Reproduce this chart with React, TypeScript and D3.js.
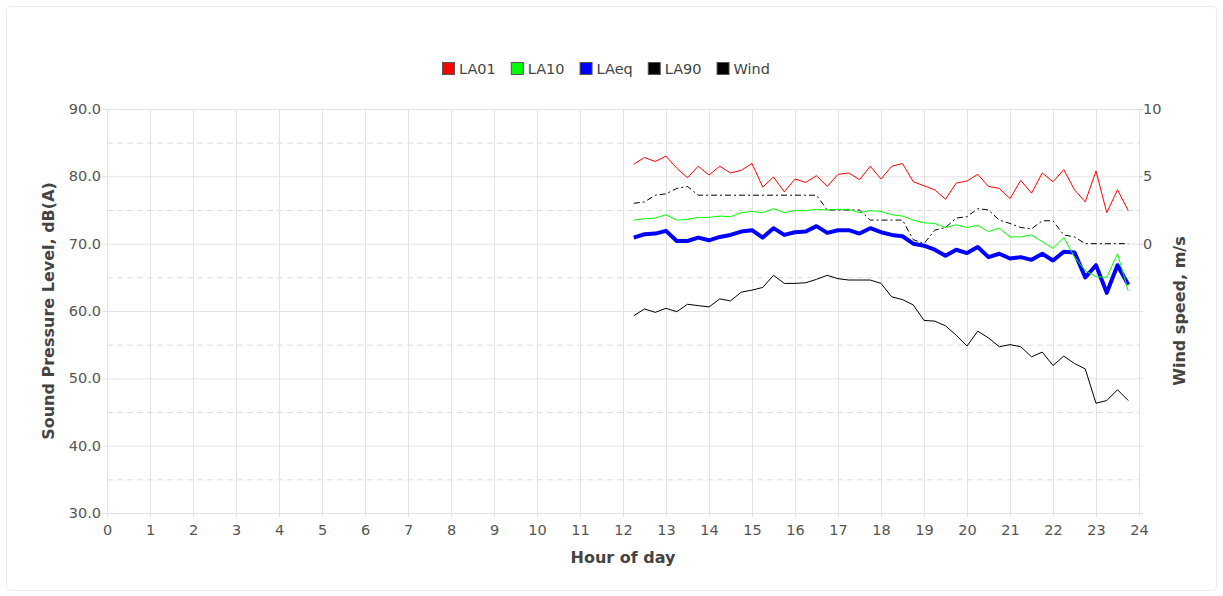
import React, { useEffect, useRef } from 'react';
import * as d3 from 'd3';

// 15-minute samples, hour of day
const hours = [12.25, 12.5, 12.75, 13, 13.25, 13.5, 13.75, 14, 14.25, 14.5, 14.75, 15,
  15.25, 15.5, 15.75, 16, 16.25, 16.5, 16.75, 17, 17.25, 17.5, 17.75, 18,
  18.25, 18.5, 18.75, 19, 19.25, 19.5, 19.75, 20, 20.25, 20.5, 20.75, 21,
  21.25, 21.5, 21.75, 22, 22.25, 22.5, 22.75, 23, 23.25, 23.5, 23.75];

const la01 = [81.8, 82.8, 82.2, 83.0, 81.2, 79.8, 81.5, 80.2, 81.5, 80.5, 80.9, 81.9,
  78.4, 79.9, 77.7, 79.6, 79.1, 80.1, 78.5, 80.3, 80.5, 79.5, 81.5, 79.6,
  81.5, 81.9, 79.2, 78.6, 78.0, 76.6, 79.0, 79.3, 80.3, 78.5, 78.2, 76.7,
  79.4, 77.5, 80.5, 79.2, 81.0, 78.0, 76.2, 80.8, 74.6, 78.0, 74.9];

const la10 = [73.5, 73.7, 73.8, 74.3, 73.5, 73.6, 73.9, 73.9, 74.1, 74.0, 74.6, 74.8,
  74.6, 75.2, 74.6, 74.9, 74.9, 75.1, 75.0, 75.1, 75.1, 74.6, 74.9, 74.8,
  74.3, 74.1, 73.5, 73.1, 73.0, 72.4, 72.8, 72.4, 72.7, 71.8, 72.3, 71.0,
  71.0, 71.3, 70.3, 69.3, 70.9, 68.0, 66.0, 65.1, 65.0, 68.5, 63.0];

const laeq = [70.9, 71.4, 71.5, 71.9, 70.4, 70.4, 70.9, 70.5, 71.0, 71.3, 71.8, 72.0,
  70.9, 72.3, 71.3, 71.7, 71.8, 72.6, 71.6, 72.0, 72.0, 71.5, 72.3, 71.7,
  71.3, 71.1, 70.0, 69.7, 69.1, 68.2, 69.1, 68.6, 69.5, 68.0, 68.5, 67.8,
  68.0, 67.6, 68.5, 67.5, 68.8, 68.7, 65.0, 66.8, 62.7, 66.8, 63.9];

const la90 = [59.3, 60.3, 59.8, 60.4, 59.9, 61.0, 60.8, 60.6, 61.8, 61.5, 62.8, 63.1,
  63.5, 65.3, 64.1, 64.1, 64.2, 64.7, 65.3, 64.8, 64.6, 64.6, 64.6, 64.1,
  62.1, 61.7, 60.9, 58.6, 58.5, 57.8, 56.4, 54.8, 57.0, 56.0, 54.7, 55.0,
  54.7, 53.2, 53.9, 51.9, 53.3, 52.2, 51.4, 46.3, 46.7, 48.3, 46.7];

const wind = [3.0, 3.1, 3.6, 3.7, 4.1, 4.25, 3.6, 3.6, 3.6, 3.6, 3.6, 3.6,
  3.6, 3.6, 3.6, 3.6, 3.6, 3.6, 2.5, 2.5, 2.5, 2.5, 1.75, 1.75,
  1.75, 1.75, 0.3, 0.0, 1.0, 1.2, 1.9, 2.0, 2.6, 2.5, 1.75, 1.5,
  1.2, 1.1, 1.7, 1.7, 0.65, 0.5, 0, 0, 0, 0, 0];

const hourTicks = [0, 1, 2, 3, 4, 5, 6, 7, 8, 9, 10, 11, 12, 13, 14, 15, 16, 17, 18, 19, 20, 21, 22, 23, 24];
const splTicks = [30, 40, 50, 60, 70, 80, 90];
const splMinorTicks = [35, 45, 55, 65, 75, 85];
const windTicks = [0, 5, 10];

const legendItems = [
  { name: 'LA01', color: '#ff0000' },
  { name: 'LA10', color: '#00ff00' },
  { name: 'LAeq', color: '#0000ff' },
  { name: 'LA90', color: '#000000' },
  { name: 'Wind', color: '#000000' },
];

const FONT = '"DejaVu Sans", Verdana, sans-serif';

const App = () => {
  const ref = useRef<SVGSVGElement>(null);

  const graph = () => {
    const svg = d3.select(ref.current);
    svg.selectAll('*').remove();

    const width = 1223;
    const height = 596;
    const left = 107, right = 1139, top = 109, bottom = 513;

    const x = d3.scaleLinear().domain([0, 24]).range([left, right]);
    const y = d3.scaleLinear().domain([30, 90]).range([bottom, top]);
    const yWind = d3.scaleLinear().domain([-20, 10]).range([bottom, top]);

    svg.append('rect')
      .attr('width', width).attr('height', height).attr('fill', '#ffffff');

    // outer frame
    svg.append('rect')
      .attr('x', 6.5).attr('y', 6.5)
      .attr('width', 1210).attr('height', 584)
      .attr('rx', 4)
      .attr('fill', '#ffffff')
      .attr('stroke', '#ececec');

    const grid = svg.append('g');
    grid.selectAll('line.v')
      .data(hourTicks)
      .enter().append('line')
      .attr('x1', d => x(d) + 0.5).attr('x2', d => x(d) + 0.5)
      .attr('y1', top).attr('y2', bottom + 4)
      .attr('stroke', '#e3e3e3');

    grid.selectAll('line.h')
      .data(splTicks)
      .enter().append('line')
      .attr('x1', left - 5).attr('x2', right + 4)
      .attr('y1', d => y(d) + 0.5).attr('y2', d => y(d) + 0.5)
      .attr('stroke', '#e3e3e3');

    grid.selectAll('line.m')
      .data(splMinorTicks)
      .enter().append('line')
      .attr('x1', left).attr('x2', right)
      .attr('y1', d => y(d) + 0.5).attr('y2', d => y(d) + 0.5)
      .attr('stroke', '#dcdcdc')
      .attr('stroke-dasharray', '6,4');

    // tick labels
    const tickColor = '#555555';
    svg.append('g')
      .selectAll('text')
      .data(splTicks)
      .enter().append('text')
      .attr('x', left - 6)
      .attr('y', d => y(d) + 5)
      .attr('text-anchor', 'end')
      .style('font-family', FONT).style('font-size', '14.5px')
      .attr('fill', tickColor)
      .text(d => d.toFixed(1));

    svg.append('g')
      .selectAll('text')
      .data(hourTicks)
      .enter().append('text')
      .attr('x', d => x(d) + 0.5)
      .attr('y', bottom + 22)
      .attr('text-anchor', 'middle')
      .style('font-family', FONT).style('font-size', '14.5px')
      .attr('fill', tickColor)
      .text(d => d);

    const windAxis = svg.append('g');
    windAxis.selectAll('line')
      .data(windTicks)
      .enter().append('line')
      .attr('x1', right).attr('x2', right + 4)
      .attr('y1', d => yWind(d) + 0.5).attr('y2', d => yWind(d) + 0.5)
      .attr('stroke', '#d0d0d0');
    windAxis.selectAll('text')
      .data(windTicks)
      .enter().append('text')
      .attr('x', right + 4)
      .attr('y', d => yWind(d) + 5)
      .style('font-family', FONT).style('font-size', '14.5px')
      .attr('fill', tickColor)
      .text(d => d);

    // axis titles
    const titleColor = '#444444';
    svg.append('text')
      .attr('transform', `translate(54, ${(top + bottom) / 2}) rotate(-90)`)
      .attr('text-anchor', 'middle')
      .style('font-family', FONT).style('font-size', '16px').style('font-weight', 'bold')
      .attr('fill', titleColor)
      .text('Sound Pressure Level, dB(A)');

    svg.append('text')
      .attr('transform', `translate(1185, ${(top + bottom) / 2}) rotate(-90)`)
      .attr('text-anchor', 'middle')
      .style('font-family', FONT).style('font-size', '16px').style('font-weight', 'bold')
      .attr('fill', titleColor)
      .text('Wind speed, m/s');

    svg.append('text')
      .attr('x', (left + right) / 2)
      .attr('y', 563)
      .attr('text-anchor', 'middle')
      .style('font-family', FONT).style('font-size', '16px').style('font-weight', 'bold')
      .attr('fill', titleColor)
      .text('Hour of day');

    // series
    const idx = hours.map((_, i) => i);
    const plot = svg.append('g');

    // wind on the secondary axis is drawn underneath
    plot.append('path')
      .datum(idx)
      .attr('fill', 'none')
      .attr('stroke', '#000000')
      .attr('stroke-width', 1)
      .attr('stroke-dasharray', '6,3,2,3')
      .attr('d', d3.line<number>().x(i => x(hours[i])).y(i => yWind(wind[i])));

    const series = [
      { values: la90, color: '#000000', w: 1 },
      { values: laeq, color: '#0000ff', w: 4 },
      { values: la10, color: '#00ff00', w: 1 },
      { values: la01, color: '#ff0000', w: 1 },
    ];

    plot.selectAll('path.s')
      .data(series)
      .enter().append('path')
      .attr('fill', 'none')
      .attr('stroke', d => d.color)
      .attr('stroke-width', d => d.w)
      .attr('stroke-linejoin', 'round')
      .attr('d', d => d3.line<number>().x(i => x(hours[i])).y(i => y(d.values[i]))(idx));

    // legend
    const legend = svg.append('g');
    let cursor = 0;
    legendItems.forEach(item => {
      const g = legend.append('g').attr('transform', `translate(${cursor}, 0)`);
      g.append('rect')
        .attr('x', 0.5).attr('y', 62.5)
        .attr('width', 12).attr('height', 12)
        .attr('fill', item.color)
        .attr('stroke', '#555555');
      const t = g.append('text')
        .attr('x', 17)
        .attr('y', 74)
        .style('font-family', FONT).style('font-size', '14.5px')
        .attr('fill', '#444444')
        .text(item.name);
      const tw = (t.node() as SVGTextElement).getComputedTextLength();
      cursor += 17 + tw + 15;
    });
    const total = cursor - 15;
    legend.attr('transform', `translate(${606 - total / 2}, 0)`);
  };

  useEffect(() => graph());

  return (
    <svg ref={ref} width="1223" height="596"
      style={{ position: 'absolute', left: 0, top: 0, display: 'block' }}></svg>
  );
};

export default App;
